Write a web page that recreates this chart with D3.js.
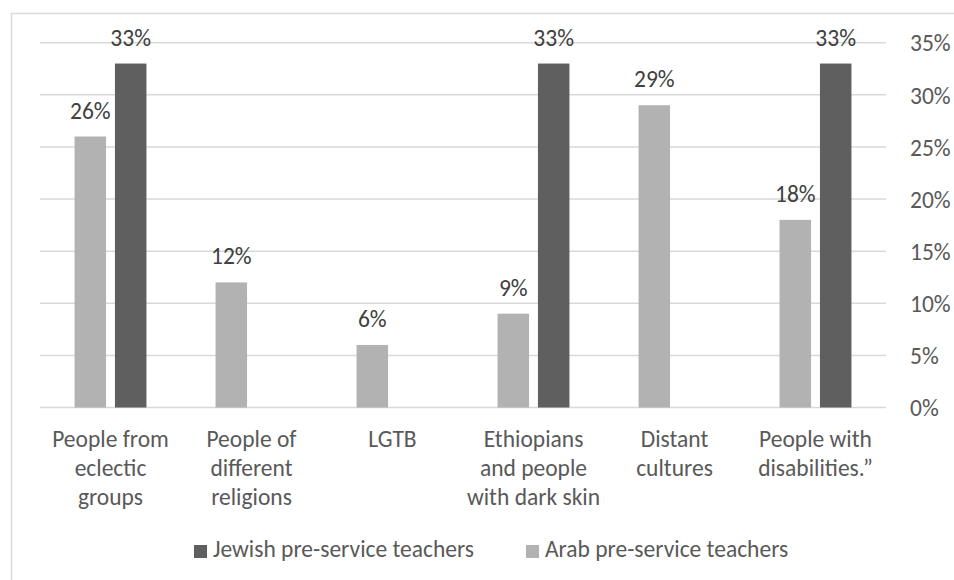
<!DOCTYPE html>
<html>
<head>
<meta charset="utf-8">
<script src="https://cdn.jsdelivr.net/npm/d3@7"></script>
<style>
  body { margin: 0; background: #fff; }
  text { font-family: Calibri, Carlito, Lato, sans-serif; }
</style>
</head>
<body>
<svg id="chart" width="954" height="580"></svg>
<script>
// categories, each split into the lines shown under the axis
const categories = [
    ['People from', 'eclectic', 'groups'],
    ['People of', 'different', 'religions'],
    ['LGTB'],
    ['Ethiopians', 'and people', 'with dark skin'],
    ['Distant', 'cultures'],
    ['People with', 'disabilities.\u201d'],
];
const seriesNames = ['Arab pre-service teachers', 'Jewish pre-service teachers'];
const arabValues = [26, 12, 6, 9, 29, 18];
const jewishValues = [33, null, null, 33, null, 33];
const yTicks = [0, 5, 10, 15, 20, 25, 30, 35];

const fontSize = 23.5;
const labelColor = '#595959';
const gridColor = '#d9d9d9';
const colors = { 'Arab pre-service teachers': '#b2b2b2', 'Jewish pre-service teachers': '#5f5f5f' };

const svg = d3.select('#chart');

// outer chart border (runs off the right/bottom edge like the original)
svg.append('rect')
    .attr('x', 11.5)
    .attr('y', 13.5)
    .attr('width', 1000)
    .attr('height', 600)
    .attr('fill', 'none')
    .attr('stroke', gridColor)
    .attr('stroke-width', 1.5);

const plot = { left: 40, right: 886, top: 42.7, bottom: 407.5 };

const x0 = d3.scaleBand()
    .domain(d3.range(categories.length))
    .range([plot.left, plot.right])
    .paddingInner(0.49)
    .paddingOuter(0.245);
const x1 = d3.scaleBand()
    .domain(seriesNames)
    .range([0, x0.bandwidth()])
    .paddingInner(0.22);
const y = d3.scaleLinear()
    .domain([0, 35])
    .range([plot.bottom, plot.top]);

// gridlines
svg.append('g')
    .selectAll('line')
    .data(yTicks)
    .join('line')
    .attr('x1', plot.left)
    .attr('x2', plot.right)
    .attr('y1', d => y(d))
    .attr('y2', d => y(d))
    .attr('stroke', gridColor)
    .attr('stroke-width', 1.5);

// right axis
const yAxis = svg.append('g')
    .attr('transform', `translate(${ plot.right }, 0)`)
    .call(d3.axisRight(y).tickValues(yTicks).tickFormat(d => d + '%').tickSize(0).tickPadding(24));
yAxis.select('.domain').remove();
yAxis.selectAll('text')
    .attr('font-family', 'Calibri, Carlito, Lato, sans-serif')
    .attr('font-size', fontSize)
    .attr('fill', labelColor)
    .attr('dy', '0.35em');

// bars
const rows = categories.map((c, i) => ({
    i,
    values: [
        { key: seriesNames[0], value: arabValues[i] },
        { key: seriesNames[1], value: jewishValues[i] },
    ].filter(d => d.value !== null),
}));

const groups = svg.append('g')
    .selectAll('g')
    .data(rows)
    .join('g')
    .attr('transform', d => `translate(${ x0(d.i) }, 0)`);

groups.selectAll('rect')
    .data(d => d.values)
    .join('rect')
    .attr('x', d => x1(d.key))
    .attr('width', x1.bandwidth())
    .attr('y', d => y(d.value))
    .attr('height', d => y(0) - y(d.value))
    .attr('fill', d => colors[d.key]);

groups.selectAll('text')
    .data(d => d.values)
    .join('text')
    .attr('x', d => x1(d.key) + x1.bandwidth() / 2)
    .attr('y', d => y(d.value) - 18)
    .attr('text-anchor', 'middle')
    .attr('font-size', fontSize)
    .attr('fill', '#404040')
    .text(d => d.value + '%');

// category labels
svg.append('g')
    .selectAll('text')
    .data(categories)
    .join('text')
    .attr('x', (d, i) => x0(i) + x0.bandwidth() / 2)
    .attr('y', 446.5)
    .attr('text-anchor', 'middle')
    .attr('font-size', fontSize)
    .attr('fill', labelColor)
    .selectAll('tspan')
    .data(d => d)
    .join('tspan')
    .attr('x', function () { return this.parentNode.getAttribute('x'); })
    .attr('dy', (d, j) => j === 0 ? 0 : 29)
    .text(d => d);

// legend
const legendItems = [
    { key: seriesNames[1], x: 194 },
    { key: seriesNames[0], x: 526 },
];
const legend = svg.append('g')
    .selectAll('g')
    .data(legendItems)
    .join('g')
    .attr('transform', d => `translate(${ d.x }, 545)`);
legend.append('rect')
    .attr('width', 13)
    .attr('height', 13)
    .attr('fill', d => colors[d.key]);
legend.append('text')
    .attr('x', 19)
    .attr('y', 12)
    .attr('font-size', fontSize)
    .attr('fill', labelColor)
    .text(d => d.key);
</script>
</body>
</html>
